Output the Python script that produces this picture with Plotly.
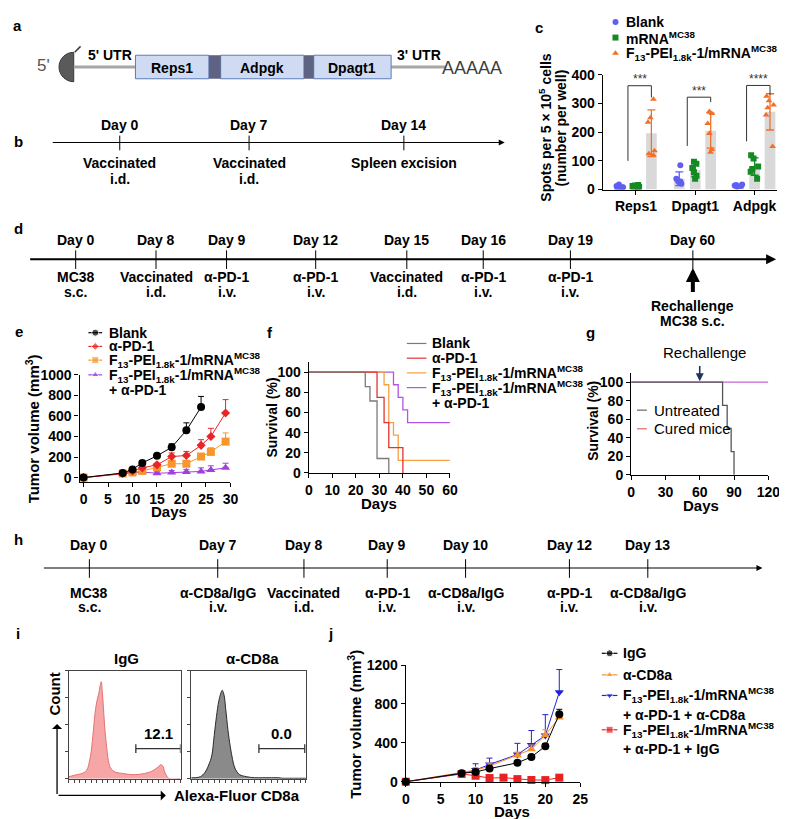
import statistics
import plotly.graph_objects as go

W, H = 787, 819
FONT = "Liberation Sans, Arial, sans-serif"
F13 = "F<sub>13</sub>-PEI<sub>1.8k</sub>-1/mRNA<sup>MC38</sup>"

# ---------------- data ----------------
# a: construct
a_genes = ["Reps1", "Adpgk", "Dpagt1"]

# b: vaccination schedule
b_days = ["Day 0", "Day 7", "Day 14"]
b_ev1 = ["Vaccinated", "Vaccinated", "Spleen excision"]
b_ev2 = ["i.d.", "i.d.", ""]

# c: ELISpot
c_genes = ["Reps1", "Dpagt1", "Adpgk"]
c_names = ["Blank", "mRNA<sup>MC38</sup>", F13]
c_blank = [[2, 5, 8, 12, 18], [85, 38, 30, 28, 25, 20], [10, 12, 14, 16, 18]]
c_mrna = [[6, 9, 10, 12, 14, 16], [97, 90, 75, 60, 48, 38], [120, 108, 80, 72, 62, 38]]
c_f13 = [[315, 250, 235, 135, 125, 120], [272, 265, 230, 195, 140, 130],
         [325, 310, 295, 285, 260, 150]]
c_sig_start = [100, 152, 168]
c_sig_top = [362, 322, 363]
c_sig_end = [321, 305, 331]
c_sig_text = ["***", "***", "****"]

# d: therapy schedule
d_days = ["Day 0", "Day 8", "Day 9", "Day 12", "Day 15", "Day 16", "Day 19", "Day 60"]
d_ev1 = ["MC38", "Vaccinated", "α-PD-1", "α-PD-1", "Vaccinated", "α-PD-1", "α-PD-1", ""]
d_ev2 = ["s.c.", "i.d.", "i.v.", "i.v.", "i.d.", "i.v.", "i.v.", ""]

# e: tumour growth
e_days_blank = [0, 8, 10, 12, 15, 18, 21, 24]
e_blank = [0, 45, 80, 143, 212, 295, 460, 686]
e_blank_err = [0, 8, 12, 15, 22, 34, 73, 104]
e_days = [0, 8, 10, 12, 15, 18, 21, 24, 26, 29]
e_pd1 = [0, 40, 65, 95, 124, 205, 215, 314, 400, 629]
e_pd1_err = [0, 8, 10, 12, 15, 35, 40, 55, 80, 130]
e_f13 = [0, 40, 50, 65, 100, 135, 135, 205, 250, 350]
e_f13_err = [0, 8, 8, 10, 15, 15, 20, 30, 40, 85]
e_combo = [0, 40, 50, 55, 42, 50, 55, 60, 75, 95]
e_combo_err = [0, 8, 10, 12, 15, 20, 25, 35, 40, 45]

# f: survival
f_blank_t = [0, 24, 26, 29, 34]
f_blank_s = [100, 85.7, 71.4, 14.3, 0]
f_pd1_t = [0, 29, 32, 34, 40]
f_pd1_s = [100, 75, 50, 25, 0]
f_f13_t = [0, 32, 34, 36, 38, 60]
f_f13_s = [100, 87.5, 50, 37.5, 12.5, 12.5]
f_combo_t = [0, 36, 38, 40, 42, 60]
f_combo_s = [100, 87.5, 75, 62.5, 50, 50]

# g: rechallenge survival
g_untreated_t = [0, 80, 84, 87.5, 90]
g_untreated_s = [100, 75, 50, 25, 0]
g_cured_t = [0, 120]
g_cured_s = [100, 100]
g_rechallenge_day = 60

# h: depletion schedule
h_days = ["Day 0", "Day 7", "Day 8", "Day 9", "Day 10", "Day 12", "Day 13"]
h_ev1 = ["MC38", "α-CD8a/IgG", "Vaccinated", "α-PD-1", "α-CD8a/IgG", "α-PD-1", "α-CD8a/IgG"]
h_ev2 = ["s.c.", "i.v.", "i.d.", "i.v.", "i.v.", "i.v.", "i.v."]

# i: flow histograms
hist_x = [0, 4, 8, 12, 16, 18, 20, 22, 24, 26, 27, 28, 29, 30, 31, 32, 34, 36, 38, 42,
          48, 55, 62, 68, 72, 76, 80, 82, 84, 86, 88, 90, 100]
igg_counts = [2, 3, 4, 5, 8, 14, 25, 45, 65, 76, 80, 86, 90, 80, 66, 50, 28, 14, 9, 6,
              5, 4, 4, 5, 6, 8, 11, 13, 12, 6, 2, 0, 0]
cd8_counts = [1, 1, 2, 6, 15, 22, 40, 58, 72, 80, 82, 80, 75, 65, 55, 45, 30, 18, 10, 4,
              2, 1, 1, 1, 1, 1, 0.5, 0.5, 0.5, 0.5, 0.5, 0.5, 0.5]
gate_igg = [60, 100, 28, "12.1"]
gate_cd8 = [59, 99, 28, "0.0"]

# j: tumour growth with CD8 depletion
j_days = [0, 8, 10, 12, 16, 18, 20, 22]
j_igg = [0, 88, 100, 135, 195, 255, 365, 695]
j_igg_err = [0, 10, 12, 15, 15, 15, 25, 50]
j_cd8 = [0, 90, 120, 160, 270, 333, 480, 660]
j_cd8_err = [0, 15, 25, 30, 35, 45, 55, 25]
j_combo_cd8 = [0, 85, 120, 178, 280, 377, 475, 920]
j_combo_cd8_err = [0, 10, 65, 65, 115, 150, 215, 234]
j_days_b = [0, 8, 10, 12, 14, 16, 18, 20, 22]
j_combo_igg = [0, 80, 62, 38, 42, 27, 18, 17, 42]
j_combo_igg_err = [0, 8, 10, 8, 8, 6, 5, 5, 8]

fig = go.Figure()
CV = ("x8", "y8")


def txt(x, y, s, size=14, bold=True, anchor="center", color="black", angle=0, ref=CV):
    if not s:
        return
    fig.add_annotation(x=x, y=y, xref=ref[0], yref=ref[1], text=s, showarrow=False,
                       xanchor=anchor, yanchor="middle", textangle=angle,
                       font=dict(family=FONT, size=size, color=color,
                                 weight="bold" if bold else "normal"))


def seg(x0, y0, x1, y1, color="black", width=1, ref=CV):
    fig.add_shape(type="line", x0=x0, y0=y0, x1=x1, y1=y1, xref=ref[0], yref=ref[1],
                  line=dict(color=color, width=width))


def arrow(x0, y0, x1, y1, width=1.2, head=2, size=1.0, color="black", ref=CV):
    fig.add_annotation(x=x1, y=y1, ax=x0, ay=y0, xref=ref[0], yref=ref[1],
                       axref=ref[0], ayref=ref[1], text="", showarrow=True,
                       arrowhead=head, arrowwidth=width, arrowsize=size, arrowcolor=color)


def timeline(y, x0, x1, xs, days, ev1, ev2, size, yd, y1, y2, lw, t0, t1):
    arrow(x0, y, x1, y, width=lw)
    for x, d, a, b in zip(xs, days, ev1, ev2):
        seg(x, y - t0, x, y + t1, width=1)
        txt(x, yd, d, size=size)
        txt(x, y1, a, size=size)
        txt(x, y2, b, size=size)


def leg(xc, y, color, symbol=None, half=7, size=7, width=1.2):
    if symbol is None:
        fig.add_trace(go.Scatter(x=[xc - half, xc + half], y=[y, y], mode="lines",
                                 line=dict(color=color, width=width), xaxis="x8", yaxis="y8",
                                 showlegend=False, hoverinfo="skip"))
    elif half == 0:
        fig.add_trace(go.Scatter(x=[xc], y=[y], mode="markers",
                                 marker=dict(color=color, symbol=symbol, size=size),
                                 xaxis="x8", yaxis="y8", showlegend=False, hoverinfo="skip"))
    else:
        fig.add_trace(go.Scatter(x=[xc - half, xc, xc + half], y=[y, y, y],
                                 mode="lines+markers", line=dict(color=color, width=width),
                                 marker=dict(color=color, symbol=symbol, size=[0, size, 0]),
                                 xaxis="x8", yaxis="y8", showlegend=False, hoverinfo="skip"))


# ---------------- panel a ----------------
fig.add_shape(type="path", xref="x8", yref="y8",
              path="M 63,37 C 54.7,37 48,43.7 48,52 C 48,60.3 54.7,67 63,67 Z",
              fillcolor="#5a5a5a", line=dict(color="#3a3a3a", width=1))
seg(64, 37, 70, 31, color="#3a3a3a", width=1.5)
seg(63, 52, 126, 52, color="#a6a6a6", width=3)
seg(387, 52, 442, 52, color="#a6a6a6", width=3)
box_x = [(126, 201), (213, 298), (308, 387)]
for (x0, x1), g in zip(box_x, a_genes):
    fig.add_shape(type="rect", xref="x8", yref="y8", x0=x0, x1=x1, y0=40, y1=64,
                  fillcolor="#cfdbf3", line=dict(color="#5d7bb8", width=1))
    txt((x0 + x1) / 2, 53, g, size=14)
for x0, x1 in [(201, 213), (298, 308)]:
    fig.add_shape(type="rect", xref="x8", yref="y8", x0=x0, x1=x1, y0=40, y1=64,
                  fillcolor="#5f6383", line=dict(color="#5f6383", width=0))
txt(32, 50, "5'", size=17, bold=False, color="#555555")
txt(100, 40, "5' UTR", size=14)
txt(415, 40, "3' UTR", size=14)
txt(470, 53, "AAAAA", size=18, bold=False, color="#404040")

# ---------------- panel b ----------------
timeline(129, 40, 503, [110, 242, 400], b_days, b_ev1, b_ev2, 14,
         111, 150, 166, 1.2, 7, 8)

# ---------------- panel c ----------------
offs = [-0.27, 0.0, 0.26]
c_cols = ["#5f5ff2", "#168a22", "#f0702a"]
c_syms = ["circle", "square", "triangle-up"]
c_series = [c_blank, c_mrna, c_f13]
bx, by = [], []
for gi, ser in enumerate(c_series):
    for i, v in enumerate(ser):
        bx.append(i + 1 + offs[gi])
        by.append(statistics.mean(v))
fig.add_trace(go.Bar(x=bx, y=by, width=0.18, marker=dict(color="#d9d9d9", line_width=0),
                     xaxis="x", yaxis="y", showlegend=False, hoverinfo="skip"))
for gi, ser in enumerate(c_series):
    pos = [i + 1 + offs[gi] for i in range(len(ser))]
    fig.add_trace(go.Box(x=[p for p, v in zip(pos, ser) for _ in v],
                         y=[val for v in ser for val in v], boxpoints="all", jitter=0.9,
                         pointpos=0, width=0.15, fillcolor="rgba(0,0,0,0)",
                         line=dict(color="rgba(0,0,0,0)", width=0), whiskerwidth=0,
                         marker=dict(color=c_cols[gi], symbol=c_syms[gi], size=6),
                         xaxis="x", yaxis="y", showlegend=False, hoverinfo="skip"))
    fig.add_trace(go.Scatter(x=pos, y=[statistics.mean(v) for v in ser], mode="markers",
                             marker=dict(size=1, color=c_cols[gi]),
                             error_y=dict(type="data", array=[statistics.stdev(v) for v in ser],
                                          color=c_cols[gi], thickness=1.3, width=4),
                             xaxis="x", yaxis="y", showlegend=False, hoverinfo="skip"))
for i in range(3):
    xl = i + 1 - 0.135
    xr = i + 1 + offs[2]
    fig.add_shape(type="path", xref="x", yref="y",
                  path=f"M {xl},{c_sig_start[i]} L {xl},{c_sig_top[i]} L {xr},{c_sig_top[i]} L {xr},{c_sig_end[i]}",
                  line=dict(color="#333333", width=1))
    fig.add_annotation(x=(xl + xr) / 2, y=c_sig_top[i] + 22, xref="x", yref="y",
                       text=c_sig_text[i], showarrow=False,
                       font=dict(family=FONT, size=12, color="#333333"))
for k, (nm, col, sym) in enumerate(zip(c_names, c_cols, c_syms)):
    leg(616, 6 + 16 * k, col, sym, half=0, size=6)
    txt(625, 6 + 16 * k, nm, size=14, anchor="left")
txt(544, 114, "Spots per 5 × 10<sup>5</sup> cells", size=14, angle=-90)
txt(560, 114, "(number per well)", size=14, angle=-90)

# ---------------- panel d ----------------
timeline(248, 17, 780, [65, 147, 219, 310, 403, 481, 570, 695], d_days, d_ev1, d_ev2,
         14, 228, 266, 281, 2, 9, 10)
arrow(695, 283, 695, 257, width=4, head=2, size=0.7)
txt(695, 296, "Rechallenge", size=14)
txt(695, 311, "MC38 s.c.", size=14)

# ---------------- panel e ----------------
e_specs = [
    (e_days_blank, e_blank, e_blank_err, "black", "circle", 8),
    (e_days, e_pd1, e_pd1_err, "#e8262a", "diamond", 7),
    (e_days, e_f13, e_f13_err, "#f7962c", "square", 8),
    (e_days, e_combo, e_combo_err, "#a23fe0", "triangle-up", 8),
]
for xs, ys, er, col, sym, sz in reversed(e_specs):
    fig.add_trace(go.Scatter(x=xs, y=ys, mode="lines+markers",
                             line=dict(color=col, width=1), marker=dict(color=col, symbol=sym, size=sz),
                             error_y=dict(type="data", symmetric=False, array=er,
                                          arrayminus=[0] * len(er), color=col, thickness=1, width=3),
                             xaxis="x2", yaxis="y2", showlegend=False, hoverinfo="skip",
                             cliponaxis=False))
e_leg = [("Blank", 323), ("α-PD-1", 337), (F13, 351), (F13, 366)]
for (nm, yy), (_, _, _, col, sym, sz) in zip(e_leg, e_specs):
    leg(85, yy, col, sym, size=sz - 1)
    txt(97, yy, nm, size=14, anchor="left")
txt(97, 381, "+ α-PD-1", size=14, anchor="left")
txt(21, 421, "Tumor volume (mm<sup>3</sup>)", size=15, angle=-90)
txt(160, 505, "Days", size=15)

# ---------------- panel f ----------------
f_specs = [
    (f_combo_t, f_combo_s, "#b354e6"),
    (f_f13_t, f_f13_s, "#f6a040"),
    (f_pd1_t, f_pd1_s, "#e23232"),
    (f_blank_t, f_blank_s, "#7a7a7a"),
]
for t, s, col in f_specs:
    fig.add_trace(go.Scatter(x=t, y=s, mode="lines", line=dict(color=col, width=1.3, shape="hv"),
                             xaxis="x3", yaxis="y3", showlegend=False, hoverinfo="skip",
                             cliponaxis=False))
f_leg = [("Blank", "#7a7a7a", 334), ("α-PD-1", "#e23232", 349), (F13, "#f6a040", 364),
         (F13, "#b354e6", 379)]
for nm, col, yy in f_leg:
    leg(413, yy, col, half=10)
    txt(427, yy, nm, size=14, anchor="left")
txt(427, 395, "+ α-PD-1", size=14, anchor="left")
txt(265, 410, "Survival (%)", size=14, angle=-90)
txt(375, 497, "Days", size=15)

# ---------------- panel g ----------------
fig.add_trace(go.Scatter(x=g_cured_t, y=g_cured_s, mode="lines",
                         line=dict(color="#c865d8", width=1.3), xaxis="x4", yaxis="y4",
                         showlegend=False, hoverinfo="skip", cliponaxis=False))
fig.add_trace(go.Scatter(x=g_untreated_t, y=g_untreated_s, mode="lines",
                         line=dict(color="#555555", width=1.3, shape="hv"), xaxis="x4",
                         yaxis="y4", showlegend=False, hoverinfo="skip", cliponaxis=False))
arrow(g_rechallenge_day, 119, g_rechallenge_day, 101, width=1.6, head=2, size=1,
      color="#1f3560", ref=("x4", "y4"))
txt(707, 343, "Rechallenge", size=15, bold=False)
leg(643, 402, "#666666", half=5)
txt(653, 402, "Untreated", size=15, bold=False, anchor="left")
leg(643, 421, "#e06868", half=5)
txt(653, 421, "Cured mice", size=15, bold=False, anchor="left")
txt(593, 413, "Survival (%)", size=14, angle=-90)
txt(703, 499, "Days", size=15)

# ---------------- panel h ----------------
timeline(563, 31, 766, [79, 210, 298, 383, 463, 569, 649], h_days, h_ev1, h_ev2,
         14, 540, 588, 603, 1.2, 9, 10)

# ---------------- panel i ----------------
fig.add_trace(go.Scatter(x=hist_x, y=igg_counts, mode="lines", fill="tozeroy",
                         fillcolor="rgba(244,150,150,0.85)",
                         line=dict(color="#e27272", width=1, shape="spline"),
                         xaxis="x5", yaxis="y5", showlegend=False, hoverinfo="skip"))
fig.add_trace(go.Scatter(x=hist_x, y=cd8_counts, mode="lines", fill="tozeroy",
                         fillcolor="#8a8a8a", line=dict(color="#2a2a2a", width=1, shape="spline"),
                         xaxis="x6", yaxis="y6", showlegend=False, hoverinfo="skip"))
for gate, ax in [(gate_igg, ("x5", "y5")), (gate_cd8, ("x6", "y6"))]:
    seg(gate[0], gate[2], gate[1], gate[2], color="#333333", width=1.3, ref=ax)
    seg(gate[0], gate[2] - 4, gate[0], gate[2] + 4, color="#333333", width=1.3, ref=ax)
    seg(gate[1], gate[2] - 4, gate[1], gate[2] + 4, color="#333333", width=1.3, ref=ax)
    txt((gate[0] + gate[1]) / 2, gate[2] + 14, gate[3], size=15, ref=ax)
txt(117, 655, "IgG", size=15)
txt(245, 655, "α-CD8a", size=15)
txt(43, 692, "Count", size=15, angle=-90)
arrow(46, 795, 46, 722, width=1.3, head=1, size=1.3)
arrow(46, 795, 157, 795, width=1.3, head=1, size=1.3)
txt(230, 795, "Alexa-Fluor CD8a", size=15)

# ---------------- panel j ----------------
j_specs = [
    (j_days_b, j_combo_igg, j_combo_igg_err, "#e82222", "square", 8),
    (j_days, j_combo_cd8, j_combo_cd8_err, "#2323d2", "triangle-down", 8),
    (j_days, j_cd8, j_cd8_err, "#f2922e", "triangle-up", 8),
    (j_days, j_igg, j_igg_err, "black", "circle", 8),
]
for xs, ys, er, col, sym, sz in j_specs:
    fig.add_trace(go.Scatter(x=xs, y=ys, mode="lines+markers",
                             line=dict(color=col, width=1), marker=dict(color=col, symbol=sym, size=sz),
                             error_y=dict(type="data", symmetric=False, array=er,
                                          arrayminus=[0] * len(er), color=col, thickness=1, width=3),
                             xaxis="x7", yaxis="y7", showlegend=False, hoverinfo="skip",
                             cliponaxis=False))
j_leg = [("IgG", 650, 3), ("α-CD8a", 672, 2), (F13, 693, 1), (F13, 728, 0)]
for nm, yy, k in j_leg:
    leg(610, yy, j_specs[k][3], j_specs[k][4], half=8, size=7)
    txt(622, yy, nm, size=14, anchor="left")
txt(622, 713, "+ α-PD-1 + α-CD8a", size=14, anchor="left")
txt(622, 748, "+ α-PD-1 + IgG", size=14, anchor="left")
txt(350, 722, "Tumor volume (mm<sup>3</sup>)", size=15, angle=-90)
txt(510, 811, "Days", size=15)

# panel letters
for ch, x, y in [("a", 6, 10), ("b", 7, 128), ("c", 538, 12), ("d", 7, 217), ("e", 7, 322),
                 ("f", 263, 323), ("g", 590, 323), ("h", 7, 534), ("i", 6, 630), ("j", 325, 630)]:
    txt(x, y, ch, size=15)


# ---------------- axes ----------------
TICKF = dict(family=FONT, size=14, color="black", weight="bold")


def xa(a, b, rng, **kw):
    d = dict(domain=[a / W, b / W], range=rng, showline=True, linecolor="black", linewidth=1.3,
             ticks="outside", ticklen=4, tickwidth=1.3, tickcolor="black", showgrid=False,
             zeroline=False, fixedrange=True, tickfont=TICKF)
    d.update(kw)
    return d


def ya(top, bottom, rng, **kw):
    return xa(0, 0, rng, domain=[1 - bottom / H, 1 - top / H], **kw)


thin = dict(linecolor="#444444", linewidth=1, mirror=True, ticklen=3, tickwidth=1,
            tickcolor="#444444", showticklabels=False)

fig.update_layout(
    width=W, height=H, margin=dict(l=0, r=0, t=0, b=0),
    paper_bgcolor="white", plot_bgcolor="rgba(0,0,0,0)",
    barmode="overlay", showlegend=False,
    font=dict(family=FONT, color="black"),
    xaxis=xa(603, 781, [0.44, 3.38], anchor="y", tickvals=[1, 2, 3], ticktext=c_genes),
    yaxis=ya(60, 177, [0, 400], anchor="x", dtick=100),
    xaxis2=xa(69, 223, [-0.8, 30], anchor="y2", dtick=5, tick0=0),
    yaxis2=ya(366, 475, [-40, 1000], anchor="x2", dtick=200, tick0=0),
    xaxis3=xa(303, 447, [0, 60], anchor="y3", dtick=10),
    yaxis3=ya(353, 466, [0, 110], anchor="x3", tickvals=[0, 20, 40, 60, 80, 100]),
    xaxis4=xa(632, 772, [0, 120], anchor="y4", dtick=30),
    yaxis4=ya(364, 468, [0, 110], anchor="x4", tickvals=[0, 20, 40, 60, 80, 100]),
    xaxis5=xa(58, 172, [0, 100], anchor="y5", dtick=5, **thin),
    yaxis5=ya(668, 778, [0, 100], anchor="x5", dtick=25, **thin),
    xaxis6=xa(183, 300, [0, 100], anchor="y6", dtick=5, **thin),
    yaxis6=ya(668, 778, [0, 100], anchor="x6", dtick=25, **thin),
    xaxis7=xa(402, 580, [0, 25], anchor="y7", dtick=5),
    yaxis7=ya(662, 781, [0, 1200], anchor="x7", dtick=400),
    xaxis8=dict(domain=[0, 1], range=[0, W], visible=False, anchor="y8", fixedrange=True),
    yaxis8=dict(domain=[0, 1], range=[H, 0], visible=False, anchor="x8", fixedrange=True),
)

fig.write_html("out.html", config={"displayModeBar": False})
